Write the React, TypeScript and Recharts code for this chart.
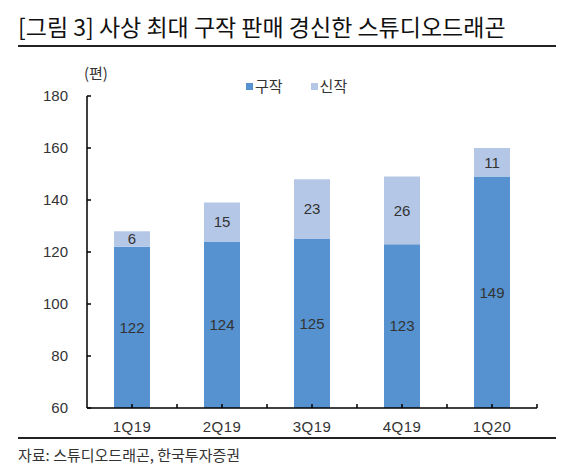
import React from 'react'
import { BarChart, Bar, XAxis, YAxis, LabelList, Legend } from 'recharts'

const categories = ['1Q19', '2Q19', '3Q19', '4Q19', '1Q20']
const oldTitles = [122, 124, 125, 123, 149]
const newTitles = [6, 15, 23, 26, 11]
const yTicks = [60, 80, 100, 120, 140, 160, 180]

const OLD_COLOR = '#5592CF'
const NEW_COLOR = '#B4C7E7'
const TEXT = '#333333'
const FONT = '"Liberation Sans", "Noto Sans CJK KR", sans-serif'
const KFONT = '"Noto Sans CJK KR", sans-serif'

const PLOT_W = 450
const HALF_BAND = PLOT_W / categories.length / 2

const data = categories.map((name, i) => ({
  name,
  구작: oldTitles[i],
  신작: newTitles[i],
}))

const YTick = ({ x, y, payload }: any) => (
  <g>
    <line x1={x + 19} x2={x + 23} y1={y} y2={y} stroke="#000" strokeWidth={1.5} />
    <text x={x} y={y} dy="0.35em" textAnchor="end" fill={TEXT} fontSize={15} fontFamily={FONT}>
      {payload.value}
    </text>
  </g>
)

const XTick = ({ x, y, payload }: any) => (
  <g>
    <line x1={x} x2={x} y1={y} y2={y - 4} stroke="#000" strokeWidth={1.5} />
    <line x1={x + HALF_BAND} x2={x + HALF_BAND} y1={y} y2={y - 4} stroke="#000" strokeWidth={1.5} />
    <text x={x} y={y + 19} dy="0.35em" textAnchor="middle" fill={TEXT} fontSize={15} fontFamily={FONT} letterSpacing={0.5}>
      {payload.value}
    </text>
  </g>
)

const LegendContent = ({ payload }: any) => (
  <div style={{ display: 'flex', gap: 28, fontFamily: KFONT, fontSize: 15, color: TEXT, lineHeight: '18px' }}>
    {payload?.map((p: any) => (
      <div key={p.value} style={{ display: 'flex', alignItems: 'center' }}>
        <span style={{ width: 7, height: 7, background: p.color, marginRight: 2, display: 'inline-block' }} />
        {p.value}
      </div>
    ))}
  </div>
)

export default function App() {
  return (
    <div style={{ position: 'absolute', left: 0, top: 0, width: 570, height: 469, background: '#fff' }}>
      <div
        style={{
          position: 'absolute', left: 18, top: 12, fontFamily: KFONT, fontSize: 23,
          color: '#111', whiteSpace: 'nowrap', lineHeight: '28px',
        }}
      >
        [그림 3] 사상 최대 구작 판매 경신한 스튜디오드래곤
      </div>
      <div style={{ position: 'absolute', left: 18, top: 45, width: 538, height: 2, background: '#222' }} />
      <div
        style={{
          position: 'absolute', left: 84, top: 64, fontFamily: KFONT, fontSize: 15,
          color: TEXT, lineHeight: '18px',
        }}
      >
        (편)
      </div>
      <div style={{ position: 'absolute', left: 0, top: 0 }}>
        <BarChart
          width={570}
          height={469}
          data={data}
          margin={{ top: 96, right: 33, bottom: 31, left: 27 }}
          barSize={36}
        >
          <XAxis
            dataKey="name"
            height={30}
            tickSize={0}
            tickMargin={0}
            tick={<XTick />}
            axisLine={{ stroke: '#000', strokeWidth: 1.5 }}
          />
          <YAxis
            width={60}
            domain={[60, 180]}
            ticks={yTicks}
            allowDataOverflow
            tickSize={0}
            tickMargin={19}
            tick={<YTick />}
            axisLine={{ stroke: '#000', strokeWidth: 1.5 }}
          />
          <Legend
            layout="horizontal"
            verticalAlign="middle"
            align="center"
            content={<LegendContent />}
            wrapperStyle={{ top: 77, left: 246, width: 'auto' }}
          />
          <Bar dataKey="구작" stackId="a" fill={OLD_COLOR} isAnimationActive={false}>
            <LabelList dataKey="구작" position="center" fill={TEXT} fontSize={15} fontFamily={FONT} />
          </Bar>
          <Bar dataKey="신작" stackId="a" fill={NEW_COLOR} isAnimationActive={false}>
            <LabelList dataKey="신작" position="center" fill={TEXT} fontSize={15} fontFamily={FONT} />
          </Bar>
        </BarChart>
      </div>
      <div style={{ position: 'absolute', left: 18, top: 437, width: 538, height: 2, background: '#222' }} />
      <div
        style={{
          position: 'absolute', left: 18, top: 446, fontFamily: KFONT, fontSize: 15,
          color: TEXT, whiteSpace: 'nowrap', lineHeight: '18px',
        }}
      >
        자료: 스튜디오드래곤, 한국투자증권
      </div>
    </div>
  )
}
